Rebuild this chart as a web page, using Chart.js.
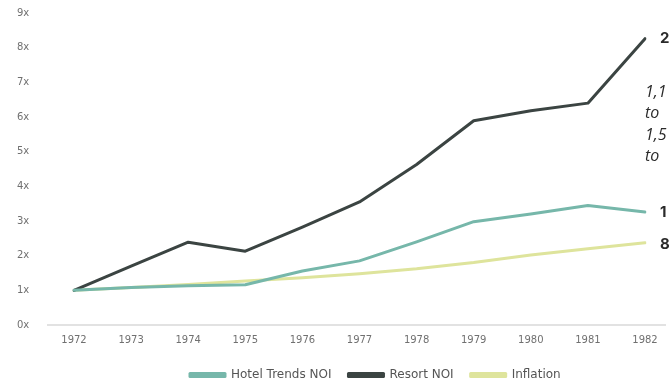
<!DOCTYPE html>
<html>
<head>
<meta charset="utf-8">
<script src="https://cdn.jsdelivr.net/npm/chart.js@4/dist/chart.umd.min.js"></script>
<style>
  html, body { margin: 0; padding: 0; background: #fff; }
  #wrap { width: 669px; height: 387px; position: relative; }
</style>
</head>
<body>
<div id="wrap"><canvas id="c"></canvas></div>
<script>
// Growth multiples, indexed to 1972 = 1x
const years = ['1972','1973','1974','1975','1976','1977','1978','1979','1980','1981','1982'];
const hotelTrendsNOI = [1.0, 1.08, 1.13, 1.16, 1.56, 1.85, 2.4, 2.98, 3.2, 3.45, 3.26];
const resortNOI      = [1.0, 1.7, 2.39, 2.13, 2.82, 3.55, 4.63, 5.89, 6.18, 6.4, 8.26];
const inflation      = [1.0, 1.08, 1.17, 1.27, 1.36, 1.48, 1.62, 1.8, 2.02, 2.2, 2.37];
const yTicks = [0, 1, 2, 3, 4, 5, 6, 7, 8, 9];

// Side notes next to the line ends (they run past the canvas edge)
const endNotes = [
  { text: '2',   y: 38,  font: 'bold 15px Inter', x: 660 },
  { text: '1,1', y: 92,  font: 'italic 16px "Open Sans"', x: 645 },
  { text: 'to',  y: 113, font: 'italic 16px "Open Sans"', x: 645 },
  { text: '1,5', y: 135, font: 'italic 16px "Open Sans"', x: 645 },
  { text: 'to',  y: 156, font: 'italic 16px "Open Sans"', x: 645 },
  { text: '1',   y: 212, font: 'bold 15px Inter', x: 660 },
  { text: '8',   y: 244, font: 'bold 15px Inter', x: 660 }
];

const colors = { hotel: '#76b7aa', resort: '#3b4442', inflation: '#dee49c' };
const legendStartX = 190;

const extras = {
  id: 'extras',
  beforeLayout(chart) {
    // trim the legend's trailing gap so it sits closer to the bottom edge
    const lg = chart.legend;
    if (lg && !lg._trimmed) {
      const fit = lg.fit;
      lg.fit = function () { fit.call(this); this.height -= 4; };
      lg._trimmed = true;
    }
  },
  afterLayout(chart) {
    // legend row starts under the middle of the plot, not at the canvas edge
    const lg = chart.legend;
    if (lg) lg.left = legendStartX - lg.options.labels.padding;
  },
  beforeDatasetsDraw(chart) {
    const { ctx, chartArea, scales } = chart;
    const y0 = scales.y.getPixelForValue(0);
    ctx.save();
    ctx.strokeStyle = '#e2e2e2';
    ctx.lineWidth = 2;
    ctx.beginPath();
    ctx.moveTo(chartArea.left - 27, y0);
    ctx.lineTo(chartArea.right + 21, y0);
    ctx.stroke();
    ctx.restore();
  },
  afterDraw(chart) {
    const { ctx } = chart;
    ctx.save();
    ctx.fillStyle = '#2a2a2a';
    ctx.textBaseline = 'middle';
    ctx.textAlign = 'left';
    endNotes.forEach(n => {
      ctx.font = n.font;
      ctx.fillText(n.text, n.x, n.y);
    });
    ctx.restore();
  }
};

new Chart(document.getElementById('c'), {
  type: 'line',
  data: {
    labels: years,
    datasets: [
      { label: 'Hotel Trends NOI', data: hotelTrendsNOI, borderColor: colors.hotel, backgroundColor: colors.hotel },
      { label: 'Resort NOI', data: resortNOI, borderColor: colors.resort, backgroundColor: colors.resort },
      { label: 'Inflation', data: inflation, borderColor: colors.inflation, backgroundColor: colors.inflation }
    ]
  },
  options: {
    responsive: true,
    maintainAspectRatio: false,
    animation: false,
    layout: { padding: { left: 17, right: 24, top: 13, bottom: 0 } },
    elements: {
      line: { borderWidth: 3, tension: 0, borderJoinStyle: 'round', borderCapStyle: 'round' },
      point: { radius: 0, hoverRadius: 0 }
    },
    plugins: {
      tooltip: { enabled: false },
      legend: {
        position: 'bottom',
        align: 'start',
        labels: {
          boxWidth: 35,
          boxHeight: 3,
          padding: 17,
          color: '#555555',
          font: { family: '"DejaVu Sans"', size: 12 }
        }
      }
    },
    scales: {
      x: {
        offset: false,
        afterFit(scale) { scale.height = 27; },
        grid: { display: false, drawTicks: false },
        border: { display: false },
        ticks: { color: '#707070', font: { family: '"DejaVu Sans"', size: 10 }, padding: 9, maxRotation: 0 }
      },
      y: {
        min: 0,
        max: 9,
        afterBuildTicks(scale) { scale.ticks = yTicks.map(v => ({ value: v })); },
        afterFit(scale) { scale.width = 57; },
        grid: { display: false, drawTicks: false },
        border: { display: false },
        ticks: {
          color: '#707070',
          font: { family: '"DejaVu Sans"', size: 10 },
          crossAlign: 'far',
          padding: 0,
          callback: v => v + 'x'
        }
      }
    }
  },
  plugins: [extras]
});
</script>
</body>
</html>
